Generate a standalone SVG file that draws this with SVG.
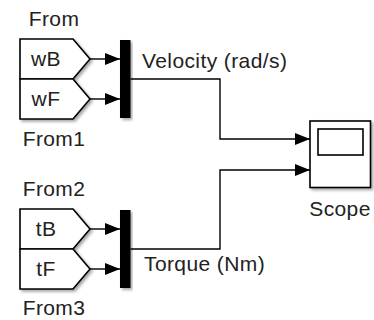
<svg xmlns="http://www.w3.org/2000/svg" width="374" height="320" viewBox="0 0 374 320">
<style>
text{font-family:"Liberation Sans",Arial,sans-serif;font-size:21px;fill:#222;letter-spacing:0.4px}
.blk{fill:#fff;stroke:#000;stroke-width:1.6}
.mux{fill:#000}
.ln{fill:none;stroke:#000;stroke-width:1.4}
.mid{text-anchor:middle}
</style>
<defs>
<marker id="ah" markerWidth="15" markerHeight="12" refX="15" refY="6" orient="auto" markerUnits="userSpaceOnUse">
<path d="M0,0 L15,6 L0,12 Z" fill="#000"/>
</marker>
<filter id="sh" x="-10%" y="-10%" width="130%" height="130%">
<feGaussianBlur in="SourceAlpha" stdDeviation="1.5"/>
<feOffset dx="1.5" dy="2" result="b"/>
<feComponentTransfer><feFuncA type="linear" slope="0.35"/></feComponentTransfer>
<feMerge><feMergeNode/><feMergeNode in="SourceGraphic"/></feMerge>
</filter>
</defs>
<g id="From">
<path class="blk" filter="url(#sh)" d="M20,39 H73 L90,59 L73,79 H20 Z"/>
<text class="mid" x="46" y="65.5">wB</text>
<text class="mid" x="54" y="25.5">From</text>
</g>
<g id="From1">
<path class="blk" filter="url(#sh)" d="M20,79 H73 L90,99 L73,119 H20 Z"/>
<text class="mid" x="46" y="105.5">wF</text>
<text class="mid" x="54" y="146">From1</text>
</g>
<g id="From2">
<path class="blk" filter="url(#sh)" d="M20,209 H73 L90,229 L73,249 H20 Z"/>
<text class="mid" x="46" y="235.5">tB</text>
<text class="mid" x="54" y="196">From2</text>
</g>
<g id="From3">
<path class="blk" filter="url(#sh)" d="M20,249 H73 L90,269 L73,289 H20 Z"/>
<text class="mid" x="46" y="275.5">tF</text>
<text class="mid" x="54" y="315">From3</text>
</g>
<g id="Mux">
<rect class="mux" filter="url(#sh)" x="120" y="40" width="10.5" height="78"/>
</g>
<g id="Mux1">
<rect class="mux" filter="url(#sh)" x="120" y="210" width="10.5" height="78"/>
</g>
<g id="Scope">
<rect class="blk" filter="url(#sh)" x="310" y="121" width="60.5" height="66.5"/>
<rect class="blk" x="318" y="129" width="45" height="26"/>
<text class="mid" x="340" y="216">Scope</text>
</g>
<g id="connectors">
<path class="ln" d="M90,59 H120" marker-end="url(#ah)"/>
<path class="ln" d="M90,99 H120" marker-end="url(#ah)"/>
<path class="ln" d="M90,229 H120" marker-end="url(#ah)"/>
<path class="ln" d="M90,269 H120" marker-end="url(#ah)"/>
<path class="ln" d="M130.5,79 H220 V139 H310" marker-end="url(#ah)"/>
<path class="ln" d="M130.5,249 H220 V170 H310" marker-end="url(#ah)"/>
<text x="142" y="67.5">Velocity (rad/s)</text>
<text x="144" y="270.5">Torque (Nm)</text>
</g>
</svg>
